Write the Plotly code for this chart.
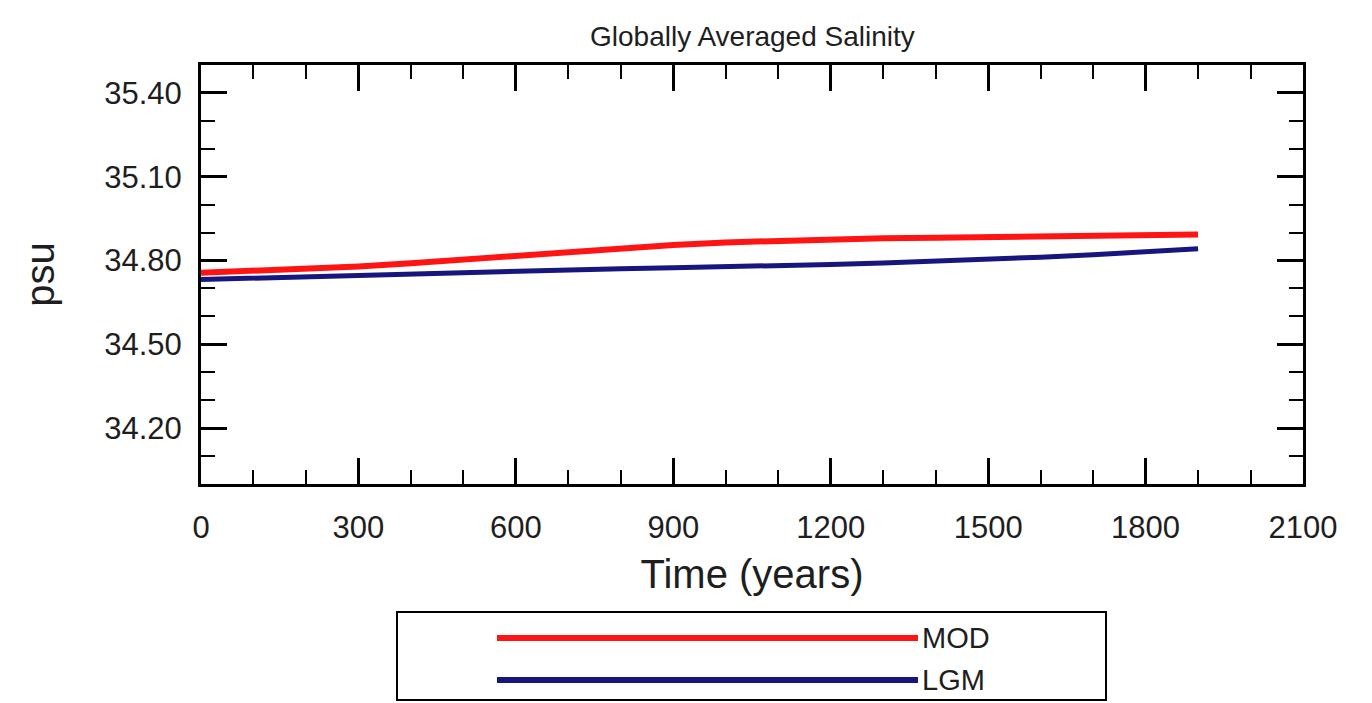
import plotly.graph_objects as go

years = [0, 100, 200, 300, 400, 500, 600, 700, 800, 900, 1000,
         1100, 1200, 1300, 1400, 1500, 1600, 1700, 1800, 1900]
mod_psu = [34.756, 34.762, 34.770, 34.779, 34.790, 34.803, 34.817, 34.832, 34.845, 34.856,
           34.865, 34.871, 34.876, 34.880, 34.882, 34.884, 34.886, 34.888, 34.890, 34.893]
lgm_psu = [34.732, 34.737, 34.743, 34.750, 34.755, 34.760, 34.764, 34.768, 34.771, 34.774,
           34.777, 34.781, 34.786, 34.791, 34.797, 34.804, 34.812, 34.821, 34.831, 34.842]
series_names = ["MOD", "LGM"]
series_colors = ["#ff1414", "#16167e"]

FONT = "Liberation Sans, Arial, Helvetica, sans-serif"

fig = go.Figure()
fig.add_trace(go.Scatter(x=years, y=mod_psu, mode="lines", name=series_names[0],
                         line=dict(color=series_colors[0], width=6), showlegend=False))
fig.add_trace(go.Scatter(x=years, y=lgm_psu, mode="lines", name=series_names[1],
                         line=dict(color=series_colors[1], width=5), showlegend=False))

axis_common = dict(
    showgrid=False, zeroline=False, showline=True, linecolor="black", linewidth=3,
    mirror="ticks", ticks="inside", ticklen=26, tickwidth=3, tickcolor="black",
    tickfont=dict(family=FONT, size=31, color="#1e1e1e"),
)

fig.update_xaxes(range=[0, 2100], dtick=300, tick0=0,
                 minor=dict(dtick=100, ticks="inside", ticklen=14, tickwidth=2, tickcolor="black"),
                 ticklabelstandoff=14,
                 title=dict(text="Time (years)", font=dict(family=FONT, size=40, color="#1e1e1e"), standoff=16),
                 **axis_common)
fig.update_yaxes(range=[34.0, 35.5], dtick=0.3, tick0=34.2, tickformat=".2f",
                 minor=dict(dtick=0.1, tick0=34.2, ticks="inside", ticklen=14, tickwidth=2, tickcolor="black"),
                 ticklabelstandoff=10,
                 title=dict(text="psu", font=dict(family=FONT, size=40, color="#1e1e1e"), standoff=38),
                 **axis_common)

# Manual legend box
shapes = [
    dict(type="rect", xref="paper", yref="paper",
         x0=(397 - 201) / 1102, x1=(1106 - 201) / 1102,
         y0=(484 - 700) / 419, y1=(484 - 612) / 419,
         line=dict(color="black", width=2), fillcolor="rgba(0,0,0,0)"),
]
annotations = [
    dict(text="Globally Averaged Salinity", xref="paper", yref="paper",
         x=0.5, y=(484 - 36) / 419, showarrow=False, xanchor="center", yanchor="middle",
         font=dict(family=FONT, size=28, color="#1e1e1e")),
]
legend_y = [638, 680]
for name, color, ly in zip(series_names, series_colors, legend_y):
    yp = (484 - ly) / 419
    shapes.append(dict(type="line", xref="paper", yref="paper",
                       x0=(497 - 201) / 1102, x1=(918 - 201) / 1102, y0=yp, y1=yp,
                       line=dict(color=color, width=6)))
    annotations.append(dict(text=name, xref="paper", yref="paper", x=(920 - 201) / 1102, y=yp,
                            showarrow=False, xanchor="left", yanchor="middle",
                            font=dict(family=FONT, size=29, color="#1e1e1e")))

fig.update_layout(
    width=1372, height=703,
    margin=dict(l=201, r=69, t=65, b=219),
    paper_bgcolor="white", plot_bgcolor="white",
    showlegend=False,
    shapes=shapes, annotations=annotations,
)

fig.write_html("out.html")
